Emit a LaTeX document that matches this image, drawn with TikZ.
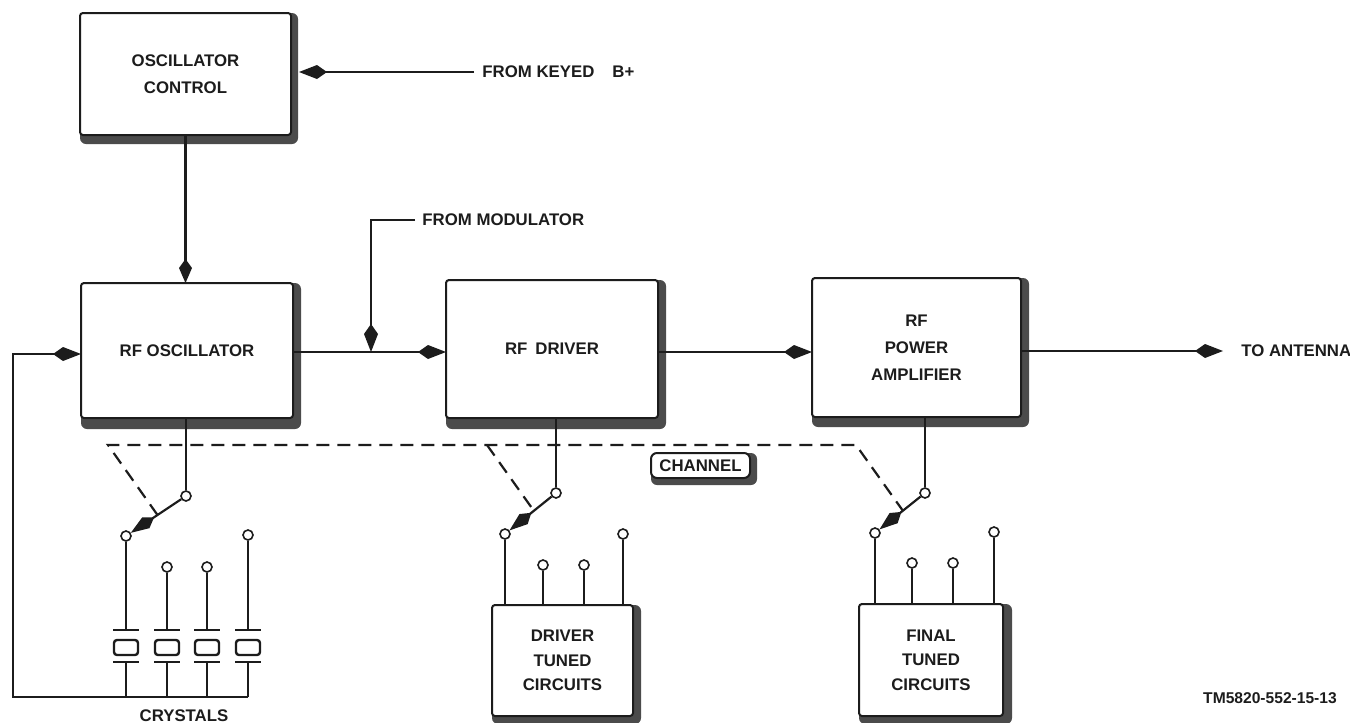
\documentclass[tikz,border=0pt]{standalone}
\usepackage{fontspec}
\setmainfont{Liberation Sans}
\usetikzlibrary{arrows.meta,backgrounds}
\definecolor{ink}{RGB}{28,28,28}
\definecolor{shc}{RGB}{75,75,75}
\newcommand\dfont{\fontsize{8.4}{13.5}\selectfont\bfseries}
\newcommand\tfont{\fontsize{8.4}{12.2}\selectfont\bfseries}
\begin{document}
\begin{tikzpicture}[x=0.5pt,y=-0.5pt,
  box/.style={draw=ink, fill=white, line width=1pt, rounded corners=1.5pt, inner sep=0pt, outer sep=0pt, align=center, font=\dfont, text=ink},
  wire/.style={draw=ink, line width=1.1pt},
  arr/.style={wire, -{Kite[length=14pt,width=7pt,inset=5pt]}},
  sarr/.style={wire, -{Kite[length=12pt,width=6.5pt,inset=4.5pt]}},
  marr/.style={wire, -{Kite[length=14pt,width=6.5pt,inset=5pt]}},
  dsh/.style={draw=ink, line width=1.1pt, dash pattern=on 6.5pt off 4pt},
  pin/.style={circle, draw=ink, fill=white, line width=0.8pt, minimum size=5pt, inner sep=0pt},
  lbl/.style={font=\dfont, text=ink, inner sep=0pt},
  xtal/.style={draw=ink, line width=1.2pt, rounded corners=1.5pt, minimum width=12pt, minimum height=7.5pt, inner sep=0pt},
  plate/.style={draw=ink, line width=1.4pt}]
\useasboundingbox (0,0) rectangle (1350,723);

% blocks
\node[box, minimum width=105.5pt, minimum height=61pt] (oc) at (185.5,74) {OSCILLATOR\\CONTROL};
\node[box, minimum width=106pt, minimum height=67.5pt] (ro) at (187,350.5) {RF OSCILLATOR};
\node[box, minimum width=106pt, minimum height=69pt] (rd) at (552,349) {RF\hspace{4pt}DRIVER};
\node[box, minimum width=104.5pt, minimum height=69.5pt] (pa) at (916.5,347.5) {RF\\POWER\\AMPLIFIER};
\node[box, font=\tfont, minimum width=70.5pt, minimum height=55.5pt] (dt) at (562.5,660.5) {DRIVER\\TUNED\\CIRCUITS};
\node[box, font=\tfont, minimum width=72pt, minimum height=56pt] (ft) at (931,660) {FINAL\\TUNED\\CIRCUITS};
\node[box, rounded corners=3pt, minimum width=49.5pt, minimum height=12.5pt] (ch) at (700.5,465.5) {CHANNEL};

\begin{pgfonlayer}{background}
  \fill[white] (0,0) rectangle (1350,723);
  \foreach \n/\dx/\dy in {oc/3.5/4.5, ro/4/5.5, rd/4/5.5, pa/4/5, dt/4/4, ft/4.5/4, ch/3.5/3.5}
    \fill[shc, rounded corners=3pt] (\n.north west) rectangle ([xshift=\dx pt, yshift=-\dy pt]\n.south east);
\end{pgfonlayer}

% labels
\node[lbl, anchor=west] (kb) at (482,72) {FROM KEYED\hspace{9pt}B+};
\node[lbl, anchor=west] (fm) at (422,220) {FROM MODULATOR};
\node[lbl, anchor=west] (ant) at (1241,351) {TO ANTENNA};
\node[lbl] (cry) at (184,716) {CRYSTALS};
\node[lbl, font=\fontsize{7.8}{9}\selectfont\bfseries] (tm) at (1270,698) {TM5820-552-15-13};

% signal path
\coordinate (ocR) at ([xshift=4pt]oc.east);
\draw[arr] ([xshift=-4pt]kb.west) -- (ocR |- kb.west);
\draw[sarr] (oc.south) -- (oc.south |- ro.north);
\coordinate (ml) at (0,352);
\coordinate (mj) at (371,352);
\draw[arr] (ro.east |- ml) -- (rd.west |- ml);
\draw[arr] ([xshift=-3.5pt]fm.west) -| (mj);
\draw[arr] (rd.east |- ml) -- (pa.west |- ml);
\draw[arr] (pa.east |- ant.west) -- ([xshift=-9pt]ant.west);

% pivots and contacts
\node[pin] (p1) at (186,496) {};
\node[pin] (p2) at (556,493) {};
\node[pin] (p3) at (925,493) {};
\draw[wire] (p1 |- ro.south) -- (p1);
\draw[wire] (p2 |- rd.south) -- (p2);
\draw[wire] (p3 |- pa.south) -- (p3);

\node[pin] (c11) at (126,536) {};
\node[pin] (c12) at (167,567) {};
\node[pin] (c13) at (207,567) {};
\node[pin] (c14) at (248,535) {};
\node[pin] (c21) at (505,534) {};
\node[pin] (c22) at (543,565) {};
\node[pin] (c23) at (584,565) {};
\node[pin] (c24) at (623,534) {};
\node[pin] (c31) at (875,533) {};
\node[pin] (c32) at (912,563) {};
\node[pin] (c33) at (953,563) {};
\node[pin] (c34) at (994,532) {};

\draw[marr] (p1) -- (c11);
\draw[marr] (p2) -- (c21);
\draw[marr] (p3) -- (c31);

% tuned circuit leads
\foreach \c in {c21,c22,c23,c24} \draw[wire] (\c) -- (\c |- dt.north);
\foreach \c in {c31,c32,c33,c34} \draw[wire] (\c) -- (\c |- ft.north);

% crystals
\foreach \k/\x in {1/126,2/167,3/207,4/248} {
  \node[xtal] (x\k) at (\x,647.5) {};
  \coordinate (t\k) at (\x,630);
  \coordinate (b\k) at (\x,662);
  \coordinate (g\k) at (\x,697);
  \draw[plate] ([xshift=-6.5pt]t\k) -- ([xshift=6.5pt]t\k);
  \draw[plate] ([xshift=-6.5pt]b\k) -- ([xshift=6.5pt]b\k);
  \draw[wire] (c1\k) -- (t\k);
  \draw[wire] (b\k) -- (g\k);
}
\coordinate (bl) at (13,697);
\coordinate (tl) at (13,354);
\draw[arr] (g4) -- (bl) -- (tl) -- (tl -| ro.west);

% ganged channel control
\path (p1) -- (c11) coordinate[pos=0.47] (a1);
\path (p2) -- (c21) coordinate[pos=0.42] (a2);
\path (p3) -- (c31) coordinate[pos=0.43] (a3);
\coordinate (k1) at (108,445);
\coordinate (k2) at (487,445);
\coordinate (k3) at (856,445);
\draw[dsh] (a1) -- (k1) -- (k3) -- (a3);
\draw[dsh] (k2) -- (a2);
\end{tikzpicture}
\end{document}
